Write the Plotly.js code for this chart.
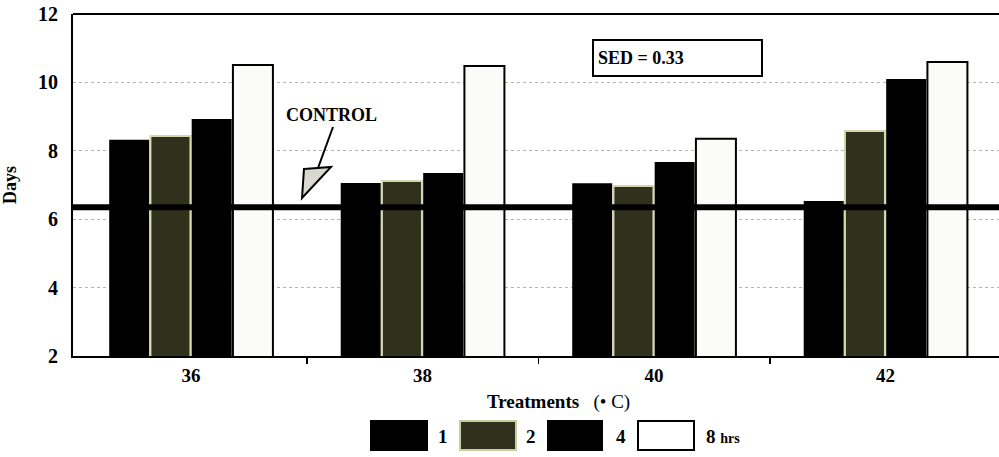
<!DOCTYPE html>
<html>
<head>
<meta charset="utf-8">
<script src="https://cdn.plot.ly/plotly-3.0.1.min.js"></script>
<style>
  html, body { margin: 0; padding: 0; background: #ffffff; }
  #chart { width: 999px; height: 457px; }
</style>
</head>
<body>
<div id="chart"></div>
<script>
// ---- data ----
const categories = [36, 38, 40, 42];
const seriesNames = ['1', '2', '4', '8 hrs'];
const hrs1 = [8.32, 7.06, 7.05, 6.53];
const hrs2 = [8.43, 7.12, 6.97, 8.58];
const hrs4 = [8.93, 7.35, 7.67, 10.10];
const hrs8 = [10.51, 10.48, 8.35, 10.60];
const controlDays = 6.35;
const controlLabel = 'CONTROL';
const sedLabel = 'SED = 0.33';
const yTickVals = [2, 4, 6, 8, 10, 12];
const xTitle = 'Treatments';
const xUnit = '(• C)';
const yTitle = 'Days';

// ---- styling ----
const FONT = 'Liberation Serif, Times New Roman, serif';
const W = 999, H = 457;
const M = { l: 73, r: 0, t: 14, b: 101 };
const PW = W - M.l - M.r, PH = H - M.t - M.b;
const px = x => (x - M.l) / PW;          // pixel -> paper x
const py = y => (H - M.b - y) / PH;      // pixel -> paper y

const seriesValues = [hrs1, hrs2, hrs4, hrs8];
const fills = ['#000000', '#2f311d', '#000000', '#fbfbf7'];
const edges = ['#000000', '#d4d6ae', '#000000', '#000000'];
const edgeW = [0, 2, 0, 2];

const traces = seriesValues.map((vals, i) => ({
  type: 'bar',
  name: seriesNames[i],
  x: categories,
  y: vals,
  marker: { color: fills[i], line: { color: edges[i], width: edgeW[i] } },
  showlegend: false,
  hoverinfo: 'x+y+name'
}));

const shapes = [];
// control line
shapes.push({ type: 'line', xref: 'paper', x0: 0, x1: 1, yref: 'y', y0: controlDays, y1: controlDays,
  line: { color: '#000000', width: 6 }, layer: 'above' });
// top frame line
shapes.push({ type: 'line', xref: 'paper', x0: 0, x1: 1, yref: 'paper', y0: 1, y1: 1,
  line: { color: '#000000', width: 2 }, layer: 'above' });
// control arrow (shaft + hollow head)
shapes.push({ type: 'line', xref: 'paper', yref: 'paper',
  x0: px(333), y0: py(127), x1: px(318), y1: py(168),
  line: { color: '#000000', width: 2 }, layer: 'above' });
shapes.push({ type: 'path', xref: 'paper', yref: 'paper',
  path: `M ${px(304)} ${py(169)} L ${px(331)} ${py(167)} L ${px(302)} ${py(198)} Z`,
  fillcolor: '#d9d9d2', line: { color: '#000000', width: 2 }, layer: 'above' });

// custom legend swatches
const swatchX = [[371, 427], [460, 516], [548, 602], [638, 694]];
const labelX = [443, 531, 621, 704];
seriesNames.forEach((name, i) => {
  shapes.push({ type: 'rect', xref: 'paper', yref: 'paper',
    x0: px(swatchX[i][0]), x1: px(swatchX[i][1]), y0: py(450), y1: py(421),
    fillcolor: i === 3 ? '#ffffff' : fills[i],
    line: { color: i === 1 ? '#c9cba0' : '#000000', width: 2 } });
});

const annotations = [];
seriesNames.forEach((name, i) => {
  const parts = name.split(' ');
  const txt = parts.length > 1 ? `<b>${parts[0]}</b> <b><span style="font-size:14px">${parts.slice(1).join(' ')}</span></b>` : `<b>${name}</b>`;
  annotations.push({ xref: 'paper', yref: 'paper', x: px(labelX[i]), y: py(436),
    xanchor: i === 3 ? 'left' : 'center', yanchor: 'middle', showarrow: false,
    text: txt, font: { family: FONT, size: 19, color: '#000000' } });
});
// x axis title
annotations.push({ xref: 'paper', yref: 'paper', x: px(558), y: py(402), xanchor: 'center', yanchor: 'middle',
  showarrow: false, text: `<b>${xTitle}</b>   ${xUnit}`, font: { family: FONT, size: 19, color: '#000000' } });
// control label
annotations.push({ xref: 'paper', yref: 'paper', x: px(331), y: py(115), xanchor: 'center', yanchor: 'middle',
  showarrow: false, text: `<b>${controlLabel}</b>`, font: { family: FONT, size: 18, color: '#000000' } });
// SED box
annotations.push({ xref: 'paper', yref: 'paper', x: px(592), y: py(39), xanchor: 'left', yanchor: 'top',
  showarrow: false, text: `<b>${sedLabel}</b>`, align: 'left', width: 159, height: 26, valign: 'middle',
  bgcolor: '#ffffff', bordercolor: '#000000', borderwidth: 2, borderpad: 4,
  font: { family: FONT, size: 18, color: '#000000' } });

const layout = {
  width: W, height: H,
  margin: M,
  paper_bgcolor: '#ffffff', plot_bgcolor: '#ffffff',
  barmode: 'group', bargap: 0.2875, bargroupgap: 0.03,
  showlegend: false,
  xaxis: {
    range: [34.98, 42.98],
    tickvals: categories, ticktext: categories.map(String), ticks: '',
    ticklabelstandoff: 1,
    minor: { tickvals: [37, 39, 41], ticks: 'outside', ticklen: 6, tickwidth: 1.5, tickcolor: '#000000', showgrid: false },
    showgrid: false, zeroline: false,
    showline: true, linecolor: '#000000', linewidth: 2,
    tickfont: { family: FONT, size: 19, color: '#000000', weight: 'bold' }
  },
  yaxis: {
    range: [2, 12],
    tickvals: yTickVals, ticks: '',
    ticklabelstandoff: 9,
    showgrid: true, gridcolor: '#b4b4b4', griddash: 'dot', gridwidth: 1,
    zeroline: false,
    showline: true, linecolor: '#000000', linewidth: 2,
    tickfont: { family: FONT, size: 20, color: '#000000', weight: 'bold' },
    title: { text: `<b>${yTitle}</b>`, standoff: 18, font: { family: FONT, size: 18, color: '#000000' } }
  },
  shapes: shapes,
  annotations: annotations
};

Plotly.newPlot('chart', traces, layout, { displayModeBar: false, staticPlot: true });
</script>
</body>
</html>
